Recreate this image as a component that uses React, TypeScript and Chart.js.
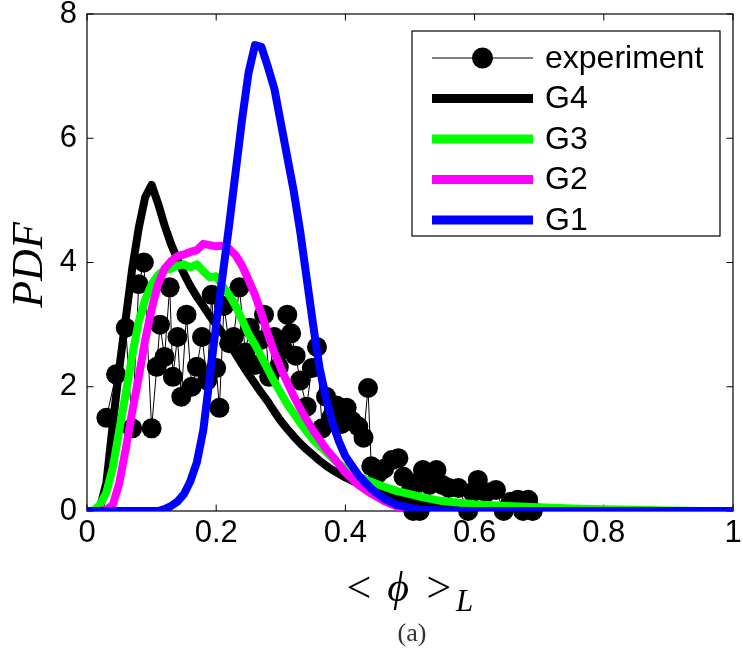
import React, { useEffect, useRef } from 'react';
import { Chart, registerables } from 'chart.js';

Chart.register(...registerables);

// ---------- data ----------
const X_TICKS = [0, 0.2, 0.4, 0.6, 0.8, 1];
const X_TICK_LABELS = ['0', '0.2', '0.4', '0.6', '0.8', '1'];
const Y_TICKS = [0, 2, 4, 6, 8];
const Y_TICK_LABELS = ['0', '2', '4', '6', '8'];

const MODEL_X = [
  0, 0.01, 0.02, 0.03, 0.04, 0.05, 0.06, 0.07, 0.08, 0.09,
  0.1, 0.11, 0.12, 0.13, 0.14, 0.15, 0.16, 0.17, 0.18, 0.19,
  0.2, 0.21, 0.22, 0.23, 0.24, 0.25, 0.26, 0.27, 0.28, 0.29,
  0.3, 0.31, 0.32, 0.33, 0.34, 0.35, 0.36, 0.37, 0.38, 0.39,
  0.4, 0.42, 0.44, 0.46, 0.48, 0.5, 0.52, 0.55, 0.6, 0.65,
  0.7, 0.75, 0.8, 0.85, 0.9, 0.95, 1.0,
];

const G4 = [
  0, 0, 0.05, 0.45, 1.4, 2.3, 3.1, 3.9, 4.55, 5.05,
  5.25, 4.95, 4.6, 4.3, 4.05, 3.82, 3.62, 3.45, 3.3, 3.14,
  3.0, 2.86, 2.7, 2.53, 2.36, 2.2, 2.05, 1.9, 1.76, 1.6,
  1.45, 1.32, 1.2, 1.09, 0.99, 0.9, 0.81, 0.73, 0.66, 0.6,
  0.54, 0.44, 0.35, 0.27, 0.2, 0.14, 0.1, 0.06, 0.03, 0.02,
  0.01, 0.01, 0, 0, 0, 0, 0,
];

const G3 = [
  0, 0, 0.1, 0.3, 0.7, 1.3, 1.9, 2.5, 3.05, 3.4,
  3.65, 3.8, 3.88, 3.9, 3.95, 3.97, 3.92, 3.97, 3.86, 3.76,
  3.78, 3.62, 3.48, 3.3, 3.08, 2.85, 2.68, 2.48, 2.28, 2.08,
  1.9, 1.72, 1.57, 1.42, 1.28, 1.15, 1.05, 0.95, 0.85, 0.76,
  0.68, 0.56, 0.47, 0.39, 0.32, 0.27, 0.22, 0.16, 0.11, 0.08,
  0.06, 0.04, 0.03, 0.02, 0.01, 0, 0,
];

const G2 = [
  0, 0, 0, 0.02, 0.1, 0.45, 1.0, 1.6, 2.15, 2.75,
  3.25, 3.65, 3.9, 4.02, 4.1, 4.13, 4.17, 4.2, 4.3, 4.28,
  4.26, 4.27, 4.22, 4.12, 3.95, 3.72, 3.48, 3.18, 2.85, 2.55,
  2.3, 2.07, 1.85, 1.65, 1.47, 1.3, 1.15, 1.0, 0.88, 0.75,
  0.62, 0.42, 0.28, 0.16, 0.07, 0.02, 0.01, 0, 0, 0,
  0, 0, 0, 0, 0, 0, 0,
];

const G1 = [
  0, 0, 0, 0, 0, 0, 0, 0, 0, 0,
  0, 0, 0.03, 0.08, 0.15, 0.27, 0.48, 0.78, 1.3, 2.15,
  3.0, 3.8, 4.6, 5.45, 6.3, 7.05, 7.5, 7.47, 7.15, 6.8,
  6.25, 5.7, 5.15, 4.5, 3.75, 3.0, 2.3, 1.82, 1.42, 1.12,
  0.88, 0.58, 0.36, 0.2, 0.1, 0.05, 0.02, 0.01, 0, 0,
  0, 0, 0, 0, 0, 0, 0,
];

const EXP_X = [
  0.03, 0.045, 0.06, 0.07, 0.08, 0.088, 0.1, 0.108, 0.113, 0.12,
  0.128, 0.133, 0.14, 0.146, 0.154, 0.162, 0.17, 0.178, 0.186, 0.193,
  0.2, 0.205, 0.212, 0.22, 0.227, 0.236, 0.245, 0.252, 0.26, 0.268,
  0.274, 0.282, 0.29, 0.297, 0.304, 0.31, 0.316, 0.323, 0.33, 0.34,
  0.348, 0.356, 0.364, 0.37, 0.378, 0.386, 0.394, 0.402, 0.41, 0.42,
  0.428, 0.435, 0.44, 0.45, 0.46, 0.472, 0.482, 0.49, 0.5, 0.505,
  0.51, 0.515, 0.52, 0.53, 0.541, 0.55, 0.56, 0.575, 0.59, 0.597,
  0.605, 0.618, 0.633, 0.645, 0.656, 0.667, 0.675, 0.683, 0.69,
];
const EXP_Y = [
  1.5, 2.2, 2.95, 1.33, 3.65, 4.0, 1.33, 2.32, 3.0, 2.48,
  3.6, 2.16, 2.8, 1.84, 3.16, 2.0, 2.32, 2.8, 2.1, 3.48,
  2.3, 1.66, 3.3, 2.7, 2.8, 3.6, 2.55, 2.95, 2.35, 2.75,
  3.16, 2.16, 2.8, 2.32, 2.6, 3.16, 2.86, 2.5, 2.1, 1.68,
  2.3, 2.64, 1.33, 1.84, 1.5, 1.7, 1.4, 1.66, 1.45, 1.36,
  1.18, 1.98, 0.72, 0.6, 0.68, 0.82, 0.85, 0.55, 0.3, 0.0,
  0.45, 0.0, 0.66, 0.42, 0.66, 0.42, 0.37, 0.37, 0.0, 0.3,
  0.5, 0.3, 0.34, 0.0, 0.15, 0.18, 0.0, 0.18, 0.0,
];

const SERIES_NAMES = ['experiment', 'G4', 'G3', 'G2', 'G1'];
const SERIES_COLORS = ['#000000', '#000000', '#00ff00', '#ff00ff', '#0000ff'];

const SANS = "'Liberation Sans', Arial, Helvetica, sans-serif";
const SERIF = "'Liberation Serif', 'DejaVu Serif', serif";

const zip = (xs: number[], ys: number[]) => xs.map((x, i) => ({ x, y: ys[i] }));

// ---------- plugin: frame, inward ticks, legend, labels ----------
const decorPlugin = {
  id: 'decor',
  beforeDatasetsDraw(chart: any) {
    const { ctx, chartArea: a, scales } = chart;
    ctx.save();
    ctx.strokeStyle = '#000';
    ctx.lineWidth = 1.2;
    ctx.strokeRect(a.left, a.top, a.right - a.left, a.bottom - a.top);
    const tl = 6.5;
    ctx.lineWidth = 1;
    ctx.beginPath();
    X_TICKS.forEach((v) => {
      const px = scales.x.getPixelForValue(v);
      ctx.moveTo(px, a.bottom);
      ctx.lineTo(px, a.bottom - tl);
      ctx.moveTo(px, a.top);
      ctx.lineTo(px, a.top + tl);
    });
    Y_TICKS.forEach((v) => {
      const py = scales.y.getPixelForValue(v);
      ctx.moveTo(a.left, py);
      ctx.lineTo(a.left + tl, py);
      ctx.moveTo(a.right, py);
      ctx.lineTo(a.right - tl, py);
    });
    ctx.stroke();
    ctx.restore();
  },
  afterDraw(chart: any) {
    const { ctx } = chart;
    ctx.save();
    // legend
    const bx = 412, by = 31, bw = 308, bh = 205;
    ctx.fillStyle = '#fff';
    ctx.fillRect(bx, by, bw, bh);
    ctx.strokeStyle = '#000';
    ctx.lineWidth = 1.2;
    ctx.strokeRect(bx, by, bw, bh);
    const ds = chart.data.datasets;
    ds.forEach((d: any, i: number) => {
      const cy = 58 + i * 40.5;
      const x0 = 432, x1 = 533;
      ctx.beginPath();
      ctx.moveTo(x0, cy);
      ctx.lineTo(x1, cy);
      ctx.strokeStyle = d.borderColor;
      ctx.lineWidth = i === 0 ? 1 : 9;
      ctx.lineCap = 'butt';
      ctx.stroke();
      if (i === 0) {
        ctx.beginPath();
        ctx.arc((x0 + x1) / 2, cy, 10.5, 0, Math.PI * 2);
        ctx.fillStyle = '#000';
        ctx.fill();
      }
      ctx.fillStyle = '#000';
      ctx.font = `32px ${SANS}`;
      ctx.textAlign = 'left';
      ctx.textBaseline = 'middle';
      ctx.fillText(d.label, 545, cy + 1);
    });

    // y label
    ctx.save();
    ctx.translate(30, 265);
    ctx.rotate(-Math.PI / 2);
    ctx.font = `italic 44px ${SERIF}`;
    ctx.textAlign = 'center';
    ctx.textBaseline = 'middle';
    ctx.fillStyle = '#000';
    ctx.fillText('PDF', 0, 0);
    ctx.restore();

    // x label  < φ >_L
    ctx.fillStyle = '#000';
    ctx.textBaseline = 'alphabetic';
    ctx.textAlign = 'center';
    ctx.font = `44px ${SERIF}`;
    ctx.fillText('<', 359, 602);
    ctx.fillText('>', 439, 602);
    ctx.font = `italic 42px ${SERIF}`;
    ctx.fillText('\u03D5', 398, 601);
    ctx.font = `italic 31px ${SERIF}`;
    ctx.textAlign = 'left';
    ctx.fillText('L', 456, 611);

    // caption
    ctx.font = `26px ${SERIF}`;
    ctx.textAlign = 'center';
    ctx.fillStyle = '#333';
    ctx.fillText('(a)', 412, 641);
    ctx.restore();
  },
};

export default function App() {
  const ref = useRef<HTMLCanvasElement | null>(null);

  useEffect(() => {
    document.body.style.margin = '0';
    const canvas = ref.current;
    if (!canvas) return;
    const modelSets = [
      { label: SERIES_NAMES[1], ys: G4, color: SERIES_COLORS[1], order: 3 },
      { label: SERIES_NAMES[2], ys: G3, color: SERIES_COLORS[2], order: 2 },
      { label: SERIES_NAMES[3], ys: G2, color: SERIES_COLORS[3], order: 1 },
      { label: SERIES_NAMES[4], ys: G1, color: SERIES_COLORS[4], order: 0 },
    ].map((s) => ({
      label: s.label,
      data: zip(MODEL_X, s.ys),
      borderColor: s.color,
      backgroundColor: s.color,
      borderWidth: 8,
      pointRadius: 0,
      borderJoinStyle: 'round' as const,
      borderCapStyle: 'round' as const,
      tension: 0,
      order: s.order,
    }));

    const chart = new Chart(canvas, {
      type: 'line',
      data: {
        datasets: [
          {
            label: SERIES_NAMES[0],
            data: zip(EXP_X, EXP_Y),
            borderColor: SERIES_COLORS[0],
            backgroundColor: SERIES_COLORS[0],
            borderWidth: 1,
            pointRadius: 10,
            pointBorderWidth: 0,
            pointBackgroundColor: '#000',
            pointBorderColor: '#000',
            tension: 0,
            clip: false as any,
            order: 4,
          },
          ...modelSets,
        ] as any,
      },
      options: {
        animation: false,
        responsive: false,
        devicePixelRatio: 1,
        layout: { padding: { left: 0, right: 7, top: 14, bottom: 0 } },
        plugins: { legend: { display: false }, tooltip: { enabled: false } },
        events: [],
        scales: {
          x: {
            type: 'linear',
            min: 0,
            max: 1,
            grid: { display: false, drawTicks: false },
            border: { display: false },
            afterBuildTicks: (s: any) => {
              s.ticks = X_TICKS.map((v) => ({ value: v }));
            },
            afterFit: (s: any) => {
              s.height = 151;
              s.paddingLeft = 0;
              s.paddingRight = 0;
            },
            ticks: {
              autoSkip: false,
              maxRotation: 0,
              padding: 4,
              color: '#000',
              font: { family: SANS, size: 31 },
              callback: (_v: any, i: number) => X_TICK_LABELS[i],
            },
          },
          y: {
            type: 'linear',
            min: 0,
            max: 8,
            grid: { display: false, drawTicks: false },
            border: { display: false },
            afterBuildTicks: (s: any) => {
              s.ticks = Y_TICKS.map((v) => ({ value: v }));
            },
            afterFit: (s: any) => {
              s.width = 87;
              s.paddingTop = 0;
              s.paddingBottom = 0;
            },
            ticks: {
              autoSkip: false,
              padding: 10,
              color: '#000',
              font: { family: SANS, size: 31 },
              callback: (_v: any, i: number) => Y_TICK_LABELS[i],
            },
          },
        },
      } as any,
      plugins: [decorPlugin],
    });
    return () => chart.destroy();
  }, []);

  return (
    <div style={{ position: 'absolute', left: 0, top: 0, width: 743, height: 662, background: '#fff' }}>
      <canvas ref={ref} width={743} height={662} style={{ display: 'block', width: 743, height: 662 }} />
    </div>
  );
}
